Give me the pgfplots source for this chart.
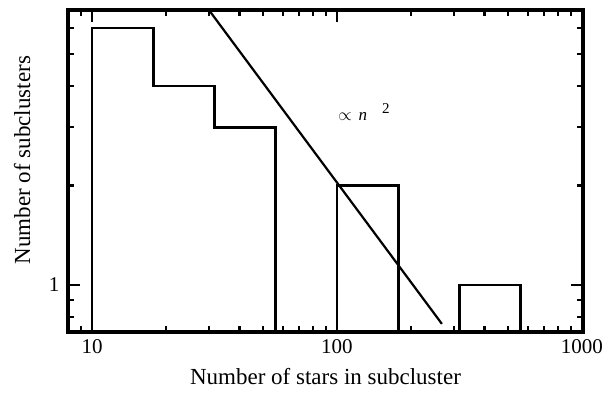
\documentclass[border=0pt]{standalone}
\usepackage{pgfplots}
\pgfplotsset{compat=1.18}
\usepackage{fontspec}
\setmainfont{Liberation Serif}

\begin{document}
\begin{tikzpicture}
\begin{axis}[
  xmode=log, ymode=log,
  scale only axis, width=515pt, height=322pt,
  xmin=7.98, xmax=1010, ymin=0.72, ymax=6.8,
  xtick={10,100,1000}, xticklabels={10,100,1000},
  minor xtick={9,20,30,40,50,60,70,80,90,200,300,400,500,600,700,800,900},
  ytick={1}, yticklabels={1},
  minor ytick={0.8,0.9,2,3,4,5,6},
  tick align=inside,
  major tick length=12pt, minor tick length=6pt,
  axis line style={line width=3.2pt},
  every tick/.style={black, line width=2.2pt},
  tick label style={font=\fontsize{21}{24}\selectfont},
  label style={font=\fontsize{23}{26}\selectfont},
  xlabel={Number of stars in subcluster},
  ylabel={Number of subclusters},
  xlabel style={at={(axis description cs:0.5,-0.1398)}, anchor=center},
  ylabel style={at={(axis description cs:-0.0893,0.534)}, anchor=center},
  xticklabel style={anchor=center, yshift=-15pt},
  yticklabel style={anchor=east, xshift=-5pt},
  /pgf/number format/assume math mode=true,
]
% histogram of subcluster sizes, 0.25 dex bins
\addplot[const plot, black, line width=2.6pt] coordinates {
  (10,0.5) (10,6) (17.78,4) (31.62,3) (56.23,0.5)
  (100,2) (177.8,0.5) (316.2,1) (562.3,0.5)
};
% power-law reference line
\addplot[black, line width=2.2pt] coordinates {(30.0,6.8) (268,0.762)};
\node[anchor=west, inner sep=0pt, font=\fontsize{17}{19}\selectfont] at (axis cs:101,3.34)
  {$\propto$\hspace{7pt}\textit{n}\hspace{15pt}\raisebox{7pt}{\fontsize{15}{17}\selectfont 2}};
\coordinate (bbSW) at (rel axis cs:0,0);
\coordinate (bbNE) at (rel axis cs:1,1);
\end{axis}
\pgfresetboundingbox
\path[use as bounding box] ([shift={(-68pt,-63pt)}]bbSW) rectangle ([shift={(33pt,10pt)}]bbNE);
\end{tikzpicture}
\end{document}
